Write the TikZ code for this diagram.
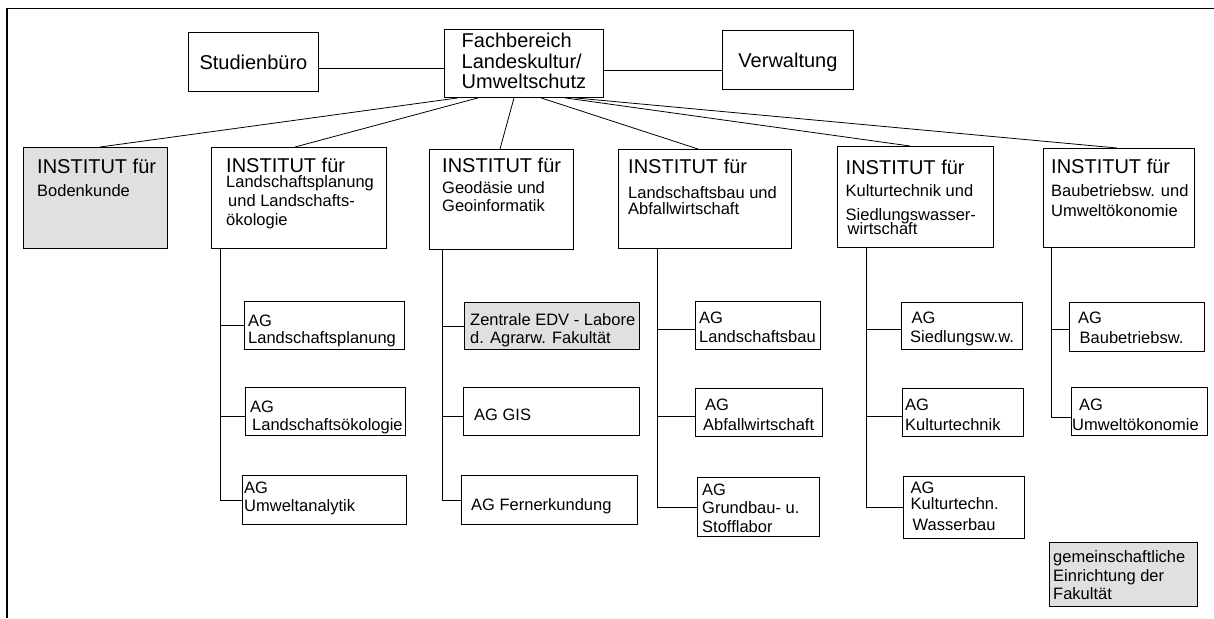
\documentclass[tikz,border=0pt]{standalone}
\usepackage{fontspec}
\setmainfont{Liberation Sans}
\usepackage{xcolor}
\usepackage{tikz}
\usetikzlibrary{positioning}
\definecolor{boxgray}{gray}{0.88}
\newcommand{\agstrut}{\rule{0pt}{12.5pt}}
\newcommand{\titlestrut}{\rule{0pt}{15pt}}
\newcommand{\titlefont}{\fontsize{20}{20}\selectfont}

\begin{document}
\begin{tikzpicture}[x=1pt, y=-1pt,
  box/.style={draw, line width=0.9pt, inner sep=0pt, anchor=north west},
  shaded/.style={box, fill=boxgray},
  conn/.style={line width=0.8pt},
  txt/.style={anchor=north west, inner sep=0pt, align=left, font=\fontsize{16.5}{19}\selectfont},
  insttxt/.style={txt, font=\fontsize{16.5}{18}\selectfont},
  toptxt/.style={font=\fontsize{20}{20.7}\selectfont}]
  \useasboundingbox (0,0) rectangle (1214,618);
  \draw[line width=1.5pt] (1214,8.5) -- (7,8.5) -- (7,618);

  % Leitung
  \node[box, toptxt, text depth=0pt, minimum width=130, minimum height=59] (stud) at (188,32) {Studienbüro};
  \node[box, minimum width=159, minimum height=68] (fb) at (444,29) {};
  \node[txt, toptxt] (fb-t) at ([shift={(17.5,3.3)}]fb.north west) {\titlestrut Fachbereich\\Landeskultur/\\Umweltschutz};
  \node[box, toptxt, text depth=0pt, minimum width=131, minimum height=59] (verw) at (722,30) {Verwaltung};
  \coordinate (fb-l) at ([shift={(0,5.3)}]fb.west);
  \coordinate (fb-r) at ([shift={(0,7)}]fb.east);
  \draw[conn] (fb-l) -- (fb-l -| stud.east);
  \draw[conn] (fb-r) -- (fb-r -| verw.west);

  % Institute
  \node[shaded, minimum width=144, minimum height=101] (bod) at (23,147) {};
  \node[box, minimum width=175, minimum height=101] (lsp) at (211,147) {};
  \node[box, minimum width=144, minimum height=100] (geo) at (429,149) {};
  \node[box, minimum width=173, minimum height=99] (lsb) at (618,149) {};
  \node[box, minimum width=156, minimum height=101] (kul) at (837,146) {};
  \node[box, minimum width=151, minimum height=99] (bbw) at (1043,148) {};
  \node[insttxt] (bod-t) at ([shift={(14,11.3)}]bod.north west)
    {{\titlestrut\titlefont INSTITUT für}\\[4.7pt]Bodenkunde};
  \node[insttxt] (lsp-t) at ([shift={(15,10.5)}]lsp.north west)
    {{\titlestrut\titlefont INSTITUT für}\\[-3pt]Landschaftsplanung\\[0.5pt]\hspace*{2pt}und Landschafts-\\[1.3pt]ökologie};
  \node[insttxt] (geo-t) at ([shift={(13,8.7)}]geo.north west)
    {{\titlestrut\titlefont INSTITUT für}\\[2.3pt]Geodäsie und\\Geoinformatik};
  \node[insttxt] (lsb-t) at ([shift={(10,9.3)}]lsb.north west)
    {{\titlestrut\titlefont INSTITUT für}\\[7pt]Landschaftsbau und\\[-2.3pt]Abfallwirtschaft};
  \node[insttxt] (kul-t) at ([shift={(8.5,13)}]kul.north west)
    {{\titlestrut\titlefont INSTITUT für}\\[4pt]Kulturtechnik und\\[6pt]Siedlungswasser-\\[-3.7pt]\hspace*{2pt}wirtschaft};
  \node[insttxt] (bbw-t) at ([shift={(8,10.3)}]bbw.north west)
    {{\titlestrut\titlefont INSTITUT für}\\[4.7pt]Baubetriebsw. und\\[2.7pt]Umweltökonomie};
  \draw[conn] ([shift={(14,0)}]fb.south west) -- ([shift={(77,0)}]bod.north west);
  \draw[conn] ([shift={(34,0)}]fb.south west) -- ([shift={(84,0)}]lsp.north west);
  \draw[conn] ([shift={(70,0)}]fb.south west) -- ([shift={(71,0)}]geo.north west);
  \draw[conn] ([shift={(97,0)}]fb.south west) -- ([shift={(80,0)}]lsb.north west);
  \draw[conn] ([shift={(121,0)}]fb.south west) -- ([shift={(73,0)}]kul.north west);
  \draw[conn] ([shift={(131,0)}]fb.south west) -- ([shift={(74,0)}]bbw.north west);

  % Arbeitsgruppen
  \node[box, minimum width=160, minimum height=48] (lp) at (244,301) {};
  \node[box, minimum width=160, minimum height=48] (lo) at (245,387) {};
  \node[box, minimum width=164, minimum height=49] (ua) at (242,475) {};
  \node[shaded, minimum width=175, minimum height=47] (zen) at (464,302) {};
  \node[box, minimum width=176, minimum height=48] (gis) at (463,387) {};
  \node[box, minimum width=176, minimum height=49] (fer) at (461,475) {};
  \node[box, minimum width=125, minimum height=48] (alb) at (695,301) {};
  \node[box, minimum width=127, minimum height=48] (abf) at (695,388) {};
  \node[box, minimum width=122, minimum height=59] (grb) at (697,477) {};
  \node[box, minimum width=121, minimum height=47] (sie) at (901,302) {};
  \node[box, minimum width=121, minimum height=48] (kut) at (902,388) {};
  \node[box, minimum width=121, minimum height=62] (wab) at (903,476) {};
  \node[box, minimum width=135, minimum height=49] (bbg) at (1069,302) {};
  \node[box, minimum width=136, minimum height=48] (uwk) at (1071,387) {};
  \node[txt] (lp-t) at ([shift={(4,12.5)}]lp.north west) {\agstrut AG\\[-1.7pt]Landschaftsplanung};
  \node[txt] (lo-t) at ([shift={(5,13.2)}]lo.north west) {\agstrut AG\\[-1.7pt]\hspace*{2pt}Landschaftsökologie};
  \node[txt] (ua-t) at ([shift={(2,5.8)}]ua.north west) {\agstrut AG\\[-1.3pt]Umweltanalytik};
  \node[txt] (zen-t) at ([shift={(6,10.5)}]zen.north west) {\agstrut Zentrale EDV - Labore\\[-0.7pt]d. Agrarw. Fakultät};
  \node[txt] (gis-t) at ([shift={(11,20.5)}]gis.north west) {\agstrut AG GIS};
  \node[txt] (fer-t) at ([shift={(10,22.5)}]fer.north west) {\agstrut AG Fernerkundung};
  \node[txt] (alb-t) at ([shift={(4,9.8)}]alb.north west) {\agstrut AG\\Landschaftsbau};
  \node[txt] (abf-t) at ([shift={(8,9.5)}]abf.north west) {\agstrut\hspace*{2pt}AG\\[1pt]Abfallwirtschaft};
  \node[txt] (grb-t) at ([shift={(5,5.5)}]grb.north west) {\agstrut AG\\[-0.7pt]Grundbau- u.\\Stofflabor};
  \node[txt] (sie-t) at ([shift={(9,8.8)}]sie.north west) {\agstrut\hspace*{1.5pt}AG\\Siedlungsw.w.};
  \node[txt] (kut-t) at ([shift={(3,9.5)}]kut.north west) {\agstrut AG\\[1pt]Kulturtechnik};
  \node[txt] (wab-t) at ([shift={(7.5,4.8)}]wab.north west) {\agstrut AG\\[-3pt]Kulturtechn.\\[2.4pt]\hspace*{2pt}Wasserbau};
  \node[txt] (bbg-t) at ([shift={(9,8.8)}]bbg.north west) {\agstrut AG\\[1pt]\hspace*{1.5pt}Baubetriebsw.};
  \node[txt] (uwk-t) at ([shift={(1,10.5)}]uwk.north west) {\agstrut\hspace*{7pt}AG\\[1pt]Umweltökonomie};

  % Stammlinien
  \coordinate (lsp-s) at ([shift={(9,0)}]lsp.south west);
  \coordinate (lo-w) at ([shift={(0,5)}]lo.west);
  \draw[conn] (lsp-s) |- (ua.west);
  \draw[conn] (lsp-s |- lp.west) -- (lp.west);
  \draw[conn] (lsp-s |- lo-w) -- (lo-w);

  \coordinate (geo-s) at ([shift={(13,0)}]geo.south west);
  \coordinate (gis-w) at ([shift={(0,5)}]gis.west);
  \draw[conn] (geo-s) |- (fer.west);
  \draw[conn] (geo-s |- zen.west) -- (zen.west);
  \draw[conn] (geo-s |- gis-w) -- (gis-w);

  \coordinate (lsb-s) at ([shift={(39,0)}]lsb.south west);
  \coordinate (alb-w) at ([shift={(0,4)}]alb.west);
  \coordinate (abf-w) at ([shift={(0,4)}]abf.west);
  \draw[conn] (lsb-s) |- (grb.west);
  \draw[conn] (lsb-s |- alb-w) -- (alb-w);
  \draw[conn] (lsb-s |- abf-w) -- (abf-w);

  \coordinate (kul-s) at ([shift={(29,0)}]kul.south west);
  \coordinate (sie-w) at ([shift={(0,3.5)}]sie.west);
  \coordinate (kut-w) at ([shift={(0,4)}]kut.west);
  \draw[conn] (kul-s) |- (wab.west);
  \draw[conn] (kul-s |- sie-w) -- (sie-w);
  \draw[conn] (kul-s |- kut-w) -- (kut-w);

  \coordinate (bbw-s) at ([shift={(8,0)}]bbw.south west);
  \coordinate (bbg-w) at ([shift={(0,2.5)}]bbg.west);
  \coordinate (uwk-w) at ([shift={(0,6)}]uwk.west);
  \draw[conn] (bbw-s) |- (uwk-w);
  \draw[conn] (bbw-s |- bbg-w) -- (bbg-w);

  % Legende
  \node[shaded, minimum width=148, minimum height=64] (leg) at (1049,542) {};
  \node[txt] (leg-t) at ([shift={(4,8.2)}]leg.north west) {\agstrut gemeinschaftliche\\Einrichtung der\\[-1.4pt]Fakultät};
\end{tikzpicture}
\end{document}
